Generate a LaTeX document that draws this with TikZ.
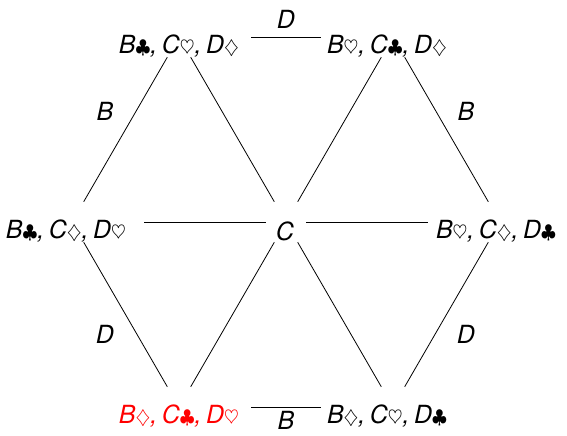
\documentclass[tikz,border=0pt]{standalone}
\usepackage{fix-cm}
\usepackage{fontspec}
\setmainfont{TeX Gyre Heros}
\newcommand{\sclub}{{\fontsize{19bp}{19bp}\selectfont$\clubsuit$}}
\newcommand{\sheart}{{\fontsize{19bp}{19bp}\selectfont$\heartsuit$}}
\newcommand{\sdiam}{{\fontsize{19bp}{19bp}\selectfont$\diamondsuit$}}
\newcommand{\csep}{,\kern4.5bp}
\begin{document}
\begin{tikzpicture}[x=1bp,y=-1bp,
  vtx/.style={minimum width=144bp, minimum height=40bp, inner sep=0pt},
  ctr/.style={minimum width=40bp, minimum height=40bp, inner sep=0pt},
  txt/.style={font=\fontsize{25bp}{29bp}\selectfont\itshape, inner sep=0pt, anchor=base, yshift=-9bp},
  elab/.style={font=\fontsize{25bp}{29bp}\selectfont\itshape, inner sep=0pt},
  edge/.style={draw=black, line width=0.8bp},
  hot/.style={text=red}]
\useasboundingbox (0,0) rectangle (567,436);
% vertices of the hexagon
\node[vtx, label={[txt]center:{B\sclub\csep C\sheart\csep D\sdiam}}] (TL) at (179,37) {};
\node[vtx, label={[txt, xshift=-6bp]center:{B\sheart\csep C\sclub\csep D\sdiam}}] (TR) at (393,37) {};
\node[vtx, label={[txt, xshift=-6bp]center:{B\sclub\csep C\sdiam\csep D\sheart}}] (ML) at (72,222) {};
\node[ctr, label={[txt, xshift=-1bp]center:{C}}] (C) at (286,222) {};
\node[vtx, label={[txt, xshift=-4bp]center:{B\sheart\csep C\sdiam\csep D\sclub}}] (MR) at (500,222) {};
\node[vtx, label={[txt, hot]center:{B\sdiam\csep C\sclub\csep D\sheart}}] (BL) at (179,407) {};
\node[vtx, label={[txt, xshift=-6bp]center:{B\sdiam\csep C\sheart\csep D\sclub}}] (BR) at (393,407) {};
% connectors
\path[edge] (TL) -- (TR);
\path[edge] (TL) -- (ML);
\path[edge] (TL) -- (C);
\path[edge] (TR) -- (C);
\path[edge] (TR) -- (MR);
\path[edge] (ML) -- (C);
\path[edge] (C) -- (MR);
\path[edge] (ML) -- (BL);
\path[edge] (BL) -- (C);
\path[edge] (BR) -- (C);
\path[edge] (MR) -- (BR);
\path[edge] (BL) -- (BR);
% edge labels
\node[elab] (l1) at (286,19) {D};
\node[elab] (l2) at (105,111) {B};
\node[elab] (l3) at (466,111) {B};
\node[elab] (l4) at (105,334) {D};
\node[elab] (l5) at (466,334) {D};
\node[elab] (l6) at (286,420) {B};
\end{tikzpicture}
\end{document}
